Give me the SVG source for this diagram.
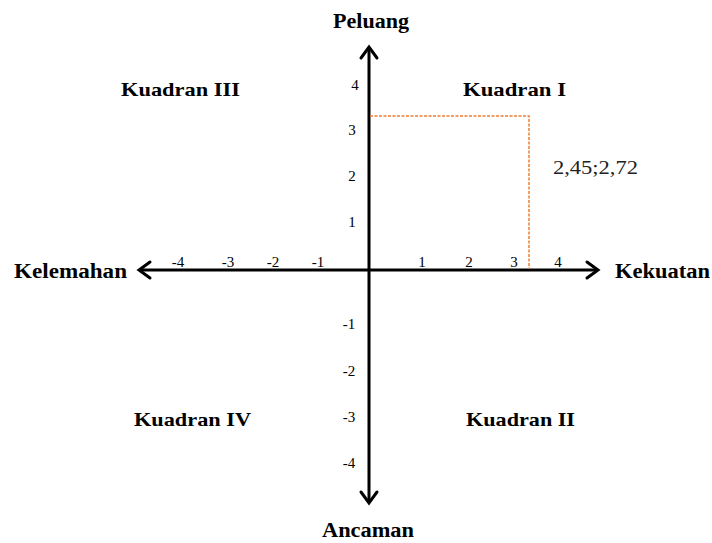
<svg xmlns="http://www.w3.org/2000/svg" width="712" height="543" viewBox="0 0 712 543">
<style>
.ax{stroke:#000;stroke-width:3;fill:none}
.hd{stroke:#000;stroke-width:3;fill:none;stroke-linecap:round;stroke-linejoin:miter}
.dash{stroke:#ED7D31;stroke-width:1.5;fill:none;stroke-dasharray:3 1.5}
.t{font-family:"Liberation Serif",serif;font-size:15px;fill:#000}
.lb{font-family:"Liberation Serif",serif;font-size:20px;font-weight:bold;fill:#000}
.q{font-family:"Liberation Serif",serif;font-size:19px;font-weight:bold;fill:#000}
.v{font-family:"Liberation Serif",serif;font-size:19px;fill:#222}
</style>
<rect width="712" height="543" fill="#fff"/>
<g id="connectors">
<line class="ax" x1="369" y1="47" x2="369" y2="503"/>
<polyline class="hd" points="361,58 369,47 377,58"/>
<polyline class="hd" points="361,492 369,503 377,492"/>
<line class="ax" x1="139" y1="270" x2="598" y2="270"/>
<polyline class="hd" points="150,262 139,270 150,278"/>
<polyline class="hd" points="587,262 598,270 587,278"/>
<polyline class="dash" points="370,116 529,116 529,269"/>
</g>
<g id="axis-labels">
<text class="lb" x="333" y="28" textLength="76" lengthAdjust="spacingAndGlyphs">Peluang</text>
<text class="lb" x="322" y="537" textLength="92" lengthAdjust="spacingAndGlyphs">Ancaman</text>
<text class="lb" x="14" y="278" textLength="113" lengthAdjust="spacingAndGlyphs">Kelemahan</text>
<text class="lb" x="615" y="278" textLength="95" lengthAdjust="spacingAndGlyphs">Kekuatan</text>
</g>
<g id="x-ticks">
<text class="t" x="178" y="267" text-anchor="middle">-4</text>
<text class="t" x="228" y="267" text-anchor="middle">-3</text>
<text class="t" x="273" y="267" text-anchor="middle">-2</text>
<text class="t" x="318" y="267" text-anchor="middle">-1</text>
<text class="t" x="422" y="267" text-anchor="middle">1</text>
<text class="t" x="469" y="267" text-anchor="middle">2</text>
<text class="t" x="514" y="267" text-anchor="middle">3</text>
<text class="t" x="558" y="267" text-anchor="middle">4</text>
</g>
<g id="y-ticks">
<text class="t" x="355" y="90" text-anchor="middle">4</text>
<text class="t" x="352" y="135" text-anchor="middle">3</text>
<text class="t" x="352" y="181" text-anchor="middle">2</text>
<text class="t" x="352" y="227" text-anchor="middle">1</text>
<text class="t" x="349" y="329" text-anchor="middle">-1</text>
<text class="t" x="349" y="376" text-anchor="middle">-2</text>
<text class="t" x="349" y="422" text-anchor="middle">-3</text>
<text class="t" x="349" y="468" text-anchor="middle">-4</text>
</g>
<g id="kuadran-iii"><text class="q" x="121" y="96" textLength="119" lengthAdjust="spacingAndGlyphs">Kuadran III</text></g>
<g id="kuadran-i"><text class="q" x="463" y="96" textLength="103" lengthAdjust="spacingAndGlyphs">Kuadran I</text></g>
<g id="kuadran-iv"><text class="q" x="134" y="426" textLength="117" lengthAdjust="spacingAndGlyphs">Kuadran IV</text></g>
<g id="kuadran-ii"><text class="q" x="466" y="426" textLength="109" lengthAdjust="spacingAndGlyphs">Kuadran II</text></g>
<g id="point-label"><text class="v" x="553" y="174" textLength="85" lengthAdjust="spacingAndGlyphs">2,45;2,72</text></g>
</svg>
